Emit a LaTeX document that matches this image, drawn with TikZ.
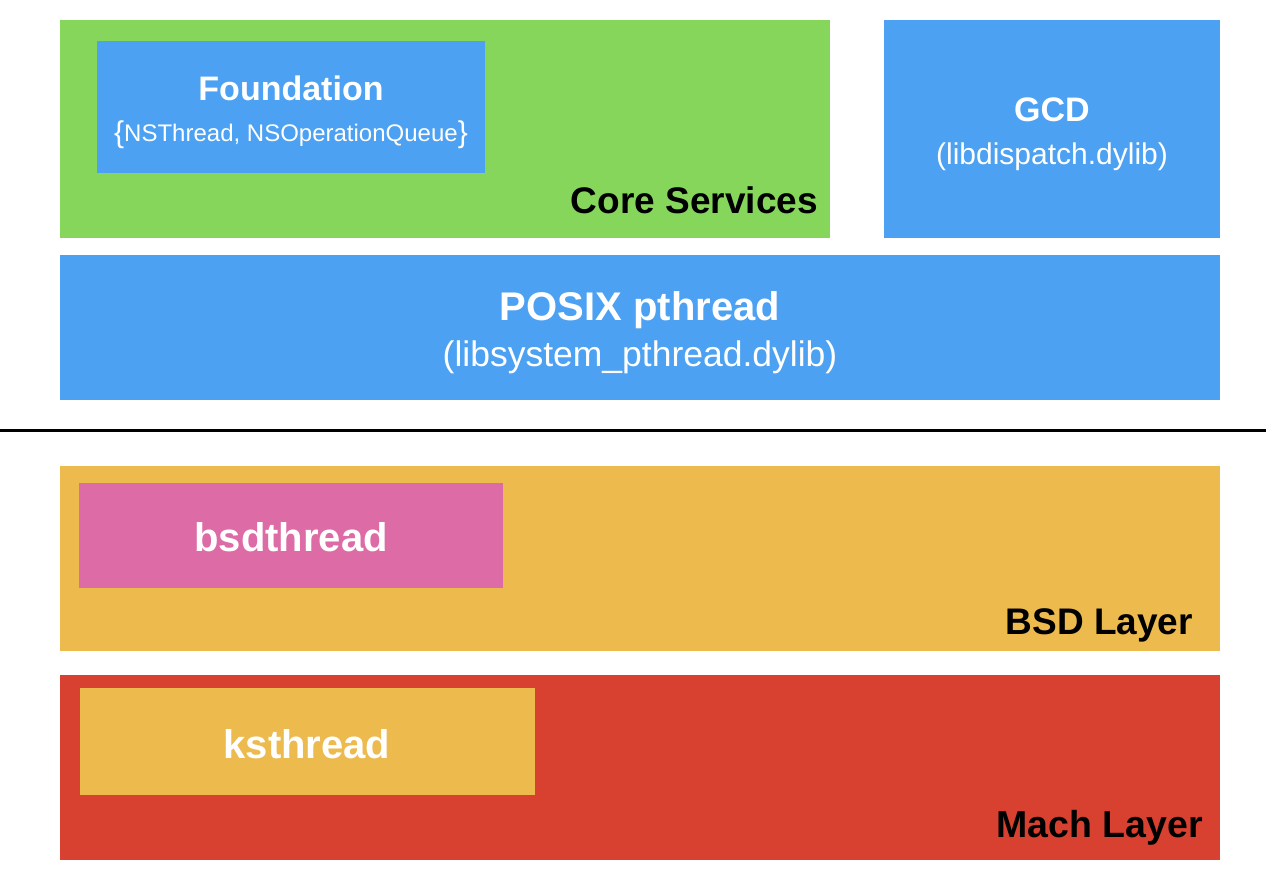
\documentclass[tikz,border=0pt]{standalone}
\usepackage{fontspec}
\setmainfont{Liberation Sans}
\definecolor{cgreen}{HTML}{86D65B}
\definecolor{cblue}{HTML}{4DA1F2}
\definecolor{corange}{HTML}{EDBA4E}
\definecolor{cpink}{HTML}{DD6BA6}
\definecolor{cred}{HTML}{D8402F}
\begin{document}
\begin{tikzpicture}[x=1pt,y=-1pt,
  box/.style={draw=none,inner sep=0pt,outer sep=0pt},
  wt/.style={text=white,inner sep=0pt,anchor=base,font=\bfseries},
  st/.style={text=white,inner sep=0pt,anchor=base},
  bt/.style={text=black,inner sep=0pt,anchor=base east,font=\bfseries}]
\useasboundingbox[fill=white] (0,0) rectangle (1266,894);
% boxes
\node[box,fill=cgreen,minimum width=770pt,minimum height=218pt] (core) at (445,129) {};
\node[box,fill=cblue,minimum width=388pt,minimum height=132pt] (found) at (291,107) {};
\node[box,fill=cblue,minimum width=336pt,minimum height=218pt] (gcd) at (1052,129) {};
\node[box,fill=cblue,minimum width=1160pt,minimum height=145pt] (posix) at (640,327.5) {};
\node[box,fill=corange,minimum width=1160pt,minimum height=185pt] (bsd) at (640,558.5) {};
\node[box,fill=cpink,minimum width=424pt,minimum height=105pt] (bsdt) at (291,535.5) {};
\node[box,fill=cred,minimum width=1160pt,minimum height=185pt] (mach) at (640,767.5) {};
\node[box,fill=corange,minimum width=455pt,minimum height=107pt] (kst) at (307.5,741.5) {};
% divider
\coordinate (l0) at (0,430);
\coordinate (l1) at (1266,430);
\draw[line width=3pt,black] (l0) -- (l1);
% texts
\node[wt,font=\bfseries\fontsize{34}{40}\selectfont] (tf) at (291,100) {Foundation};
\node[st,font=\fontsize{24}{28}\selectfont] (tf2) at (291,141) {{\fontsize{30}{30}\selectfont\raisebox{-1pt}{\{}}NSThread, NSOperationQueue{\fontsize{30}{30}\selectfont\raisebox{-1pt}{\}}}};
\node[bt,font=\bfseries\fontsize{37}{42}\selectfont] (tcs) at (818,213) {Core Services};
\node[wt,font=\bfseries\fontsize{34}{40}\selectfont] (tg) at (1052,121) {GCD};
\node[st,font=\fontsize{30}{34}\selectfont] (tg2) at (1052,164) {(libdispatch.dylib)};
\node[wt,font=\bfseries\fontsize{40}{46}\selectfont] (tp) at (640,320) {POSIX pthread};
\node[st,font=\fontsize{35.5}{40}\selectfont] (tp2) at (640,366) {(libsystem\_pthread.dylib)};
\node[wt,font=\bfseries\fontsize{40}{46}\selectfont] (tb) at (291,551) {bsdthread};
\node[bt,font=\bfseries\fontsize{37}{42}\selectfont] (tbl) at (1193,634) {BSD Layer};
\node[wt,font=\bfseries\fontsize{40}{46}\selectfont] (tk) at (307,758) {ksthread};
\node[bt,font=\bfseries\fontsize{37.5}{42}\selectfont] (tml) at (1203,837) {Mach Layer};
\end{tikzpicture}
\end{document}
